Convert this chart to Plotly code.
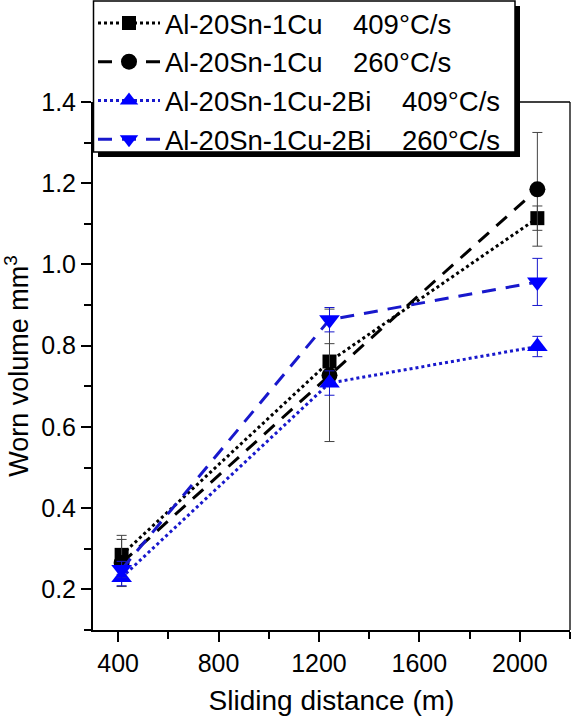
import plotly.graph_objects as go

distance = [414, 1242, 2070]

GAP = "\u00a0\u00a0\u00a0\u00a0"
names = [
    "Al-20Sn-1Cu" + GAP + "409°C/s",
    "Al-20Sn-1Cu" + GAP + "260°C/s",
    "Al-20Sn-1Cu-2Bi" + GAP + "409°C/s",
    "Al-20Sn-1Cu-2Bi" + GAP + "260°C/s",
]
cu_409 = [0.285, 0.761, 1.114]
cu_409_err = [0.048, 0.044, 0.03]
cu_260 = [0.265, 0.727, 1.185]
cu_260_err = [0.058, 0.163, 0.14]
bi_409 = [0.229, 0.708, 0.798]
bi_409_err = [0.02, 0.03, 0.025]
bi_260 = [0.249, 0.864, 0.957]
bi_260_err = [0.02, 0.03, 0.058]

FONT = "Liberation Sans, Arial, sans-serif"
BLUE = "#0000ff"
BLUE_LINE = "#1818cc"

series = [
    (names[0], cu_409, cu_409_err, "square", 14, "black", "black", "dot", "#444444"),
    (names[1], cu_260, cu_260_err, "circle", 16, "black", "black", "14px,10px", "#444444"),
    (names[2], bi_409, bi_409_err, "triangle-up", 18, BLUE, BLUE_LINE, "dot", BLUE_LINE),
    (names[3], bi_260, bi_260_err, "triangle-down", 18, BLUE, BLUE_LINE, "14px,10px", BLUE_LINE),
]

fig = go.Figure()
for name, ys, errs, sym, size, mcol, lcol, dash, ecol in series:
    fig.add_trace(go.Scatter(
        x=distance, y=ys, name=name, mode="lines+markers",
        line=dict(color=lcol, width=3, dash=dash),
        marker=dict(symbol=sym, size=size, color=mcol, line=dict(width=0)),
        error_y=dict(type="data", array=errs, visible=True, color=ecol,
                     thickness=1, width=5),
    ))

PW, PH, L0, B0 = 477.0, 528.0, 93.0, 630.0


def px(xp):
    return (xp - L0) / PW


def py(yp):
    return (B0 - yp) / PH


# thin top/right frame
fig.add_shape(type="line", xref="paper", yref="paper", x0=1, x1=1, y0=0, y1=1,
              line=dict(color="black", width=1.3))
fig.add_shape(type="line", xref="paper", yref="paper", x0=0, x1=1, y0=1, y1=1,
              line=dict(color="black", width=1.3))
# legend drop shadow and box
fig.add_shape(type="rect", xref="paper", yref="paper",
              x0=px(98), x1=px(520), y0=py(157), y1=py(6),
              fillcolor="black", line=dict(width=0), layer="above")
fig.add_shape(type="rect", xref="paper", yref="paper",
              x0=px(93.5), x1=px(515), y0=py(152), y1=py(1),
              fillcolor="white", line=dict(color="black", width=1.5), layer="above")

fig.update_layout(
    width=572, height=721,
    margin=dict(l=93, r=2, t=102, b=91, autoexpand=False),
    paper_bgcolor="white", plot_bgcolor="white",
    font=dict(family=FONT, color="black"),
    showlegend=True,
    legend=dict(
        x=0, xanchor="left", y=py(-1.5), yanchor="top",
        bgcolor="rgba(0,0,0,0)", borderwidth=0,
        font=dict(size=27.5, family=FONT, color="black"),
        itemwidth=62, tracegroupgap=0,
    ),
    xaxis=dict(
        range=[300, 2200], tickmode="linear", tick0=400, dtick=400,
        ticks="outside", ticklen=10, tickwidth=2, tickcolor="black",
        showline=True, linecolor="black", linewidth=2, mirror=False,
        showgrid=False, zeroline=False, automargin=False,
        tickfont=dict(size=25, family=FONT),
        minor=dict(dtick=200, tick0=400, ticks="outside",
                   ticklen=7, tickwidth=2, tickcolor="black", showgrid=False),
        title=dict(text="Sliding distance (m)", font=dict(size=28, family=FONT), standoff=14),
    ),
    yaxis=dict(
        range=[0.1, 1.4], tickmode="linear", tick0=0.2, dtick=0.2, tickformat=".1f",
        ticks="outside", ticklen=10, tickwidth=2, tickcolor="black",
        showline=True, linecolor="black", linewidth=2, mirror=False,
        showgrid=False, zeroline=False, automargin=False,
        tickfont=dict(size=25, family=FONT),
        minor=dict(dtick=0.1, tick0=0.2, ticks="outside",
                   ticklen=7, tickwidth=2, tickcolor="black", showgrid=False),
        title=dict(text="Worn volume mm<sup>3</sup>", font=dict(size=27, family=FONT), standoff=10),
    ),
)

fig.write_html("out.html")
